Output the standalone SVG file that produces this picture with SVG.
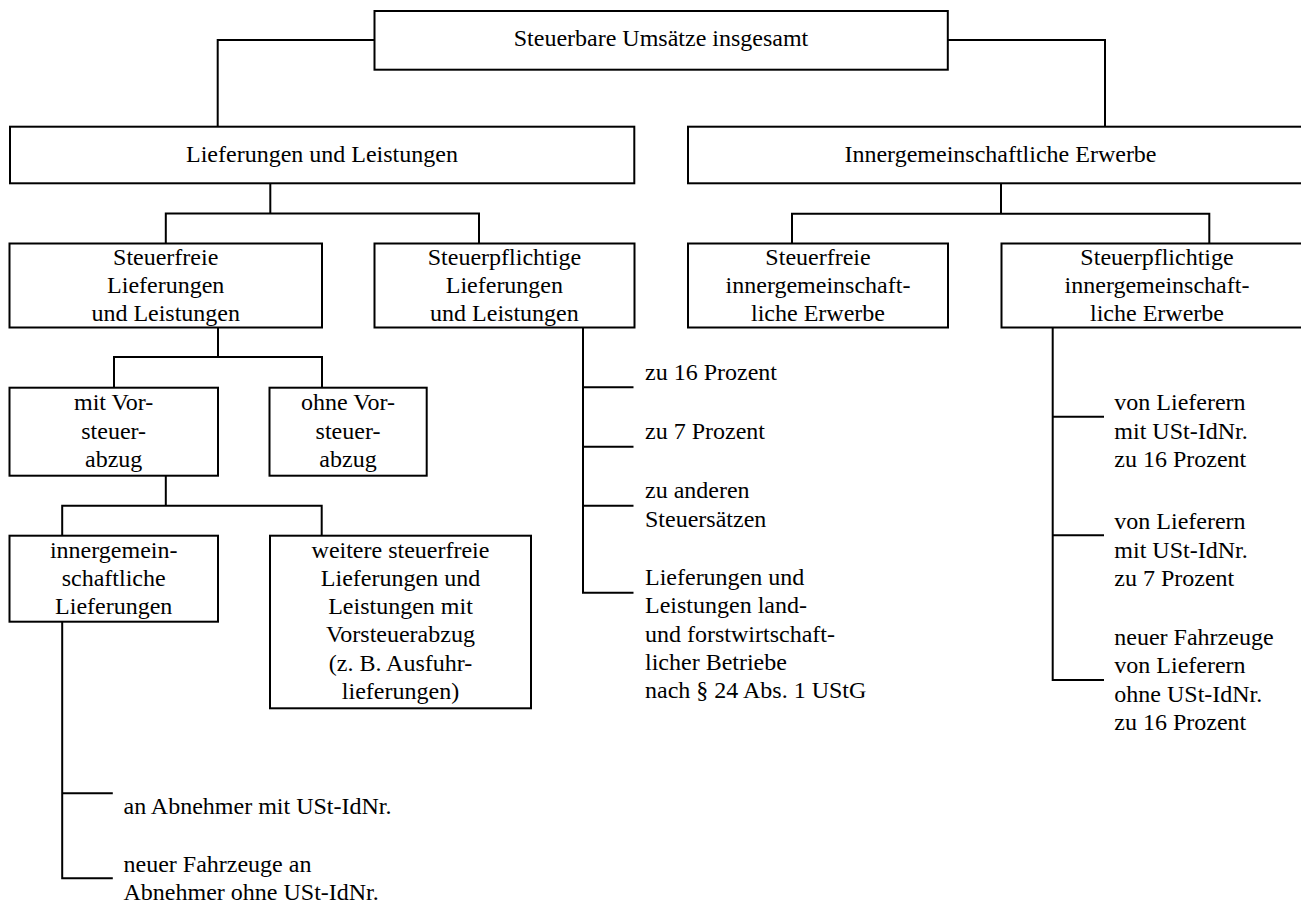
<svg xmlns="http://www.w3.org/2000/svg" width="1301" height="905" viewBox="0 0 1301 905">
<style>
.box{fill:#fff;stroke:#000;stroke-width:2}
.ln{fill:none;stroke:#000;stroke-width:2}
text{font-family:"Liberation Serif","Times New Roman",serif;font-size:24px;fill:#000}
.c{text-anchor:middle}
</style>
<rect width="1301" height="905" fill="#fff"/>
<g id="connectors">
<polyline class="ln" points="374.5,40 217.7,40 217.7,126.7"/>
<polyline class="ln" points="947.8,40 1105,40 1105,126.7"/>
<line class="ln" x1="270.3" y1="183.3" x2="270.3" y2="213.5"/>
<polyline class="ln" points="165.8,243.5 165.8,213.5 479,213.5 479,243.5"/>
<line class="ln" x1="1001" y1="183.3" x2="1001" y2="213.8"/>
<polyline class="ln" points="792,243.5 792,213.8 1209.3,213.8 1209.3,243.5"/>
<line class="ln" x1="218" y1="327.5" x2="218" y2="357"/>
<polyline class="ln" points="114,387.7 114,357 322,357 322,387.7"/>
<line class="ln" x1="165.8" y1="475.7" x2="165.8" y2="505.7"/>
<polyline class="ln" points="62.2,535.7 62.2,505.7 321.7,505.7 321.7,535.7"/>
<polyline class="ln" points="583,327.5 583,592.7 633.5,592.7"/>
<line class="ln" x1="583" y1="387.3" x2="633.5" y2="387.3"/>
<line class="ln" x1="583" y1="446.7" x2="633.5" y2="446.7"/>
<line class="ln" x1="583" y1="505.7" x2="633.5" y2="505.7"/>
<polyline class="ln" points="1052.7,327.7 1052.7,680 1104,680"/>
<line class="ln" x1="1052.7" y1="416.7" x2="1104" y2="416.7"/>
<line class="ln" x1="1052.7" y1="535.3" x2="1104" y2="535.3"/>
<polyline class="ln" points="62.2,621.7 62.2,878.3 112.8,878.3"/>
<line class="ln" x1="62.2" y1="793.3" x2="112.8" y2="793.3"/>
</g>
<g id="n-top">
<rect class="box" x="374.5" y="11" width="573.3" height="58.7"/>
<text class="c" x="661" y="46">Steuerbare Umsätze insgesamt</text>
</g>
<g id="n-lief">
<rect class="box" x="10" y="126.7" width="624.3" height="56.6"/>
<text class="c" x="322" y="162">Lieferungen und Leistungen</text>
</g>
<g id="n-inner">
<rect class="box" x="688" y="126.7" width="625" height="56.6"/>
<text class="c" x="1000.5" y="162">Innergemeinschaftliche Erwerbe</text>
</g>
<g id="n-stfrei">
<rect class="box" x="9.5" y="243.5" width="312.5" height="84"/>
<text class="c" x="165.7" y="265">Steuerfreie<tspan x="165.7" y="293">Lieferungen</tspan><tspan x="165.7" y="321">und Leistungen</tspan></text>
</g>
<g id="n-stpfl">
<rect class="box" x="374.5" y="243.5" width="260" height="84"/>
<text class="c" x="504.4" y="265">Steuerpflichtige<tspan x="504.4" y="293">Lieferungen</tspan><tspan x="504.4" y="321">und Leistungen</tspan></text>
</g>
<g id="n-stfrei-ig">
<rect class="box" x="688" y="243.5" width="260" height="84"/>
<text class="c" x="818" y="265">Steuerfreie<tspan x="818" y="293">innergemeinschaft-</tspan><tspan x="818" y="321">liche Erwerbe</tspan></text>
</g>
<g id="n-stpfl-ig">
<rect class="box" x="1001.5" y="243.5" width="311" height="84"/>
<text class="c" x="1157" y="265">Steuerpflichtige<tspan x="1157" y="293">innergemeinschaft-</tspan><tspan x="1157" y="321">liche Erwerbe</tspan></text>
</g>
<g id="n-mit">
<rect class="box" x="9.5" y="387.7" width="208.5" height="88"/>
<text class="c" x="113.7" y="410">mit Vor-<tspan x="113.7" y="438.5">steuer-</tspan><tspan x="113.7" y="467">abzug</tspan></text>
</g>
<g id="n-ohne">
<rect class="box" x="269.5" y="387.7" width="157.2" height="88"/>
<text class="c" x="348" y="410">ohne Vor-<tspan x="348" y="438.5">steuer-</tspan><tspan x="348" y="467">abzug</tspan></text>
</g>
<g id="n-igl">
<rect class="box" x="9.5" y="535.7" width="208.5" height="86"/>
<text class="c" x="113.7" y="557.5">innergemein-<tspan x="113.7" y="585.8">schaftliche</tspan><tspan x="113.7" y="614">Lieferungen</tspan></text>
</g>
<g id="n-weitere">
<rect class="box" x="270" y="535.7" width="261" height="172.6"/>
<text class="c" x="400.5" y="557.5">weitere steuerfreie<tspan x="400.5" y="585.8">Lieferungen und</tspan><tspan x="400.5" y="614.1">Leistungen mit</tspan><tspan x="400.5" y="642.4">Vorsteuerabzug</tspan><tspan x="400.5" y="670.7">(z. B. Ausfuhr-</tspan><tspan x="400.5" y="699">lieferungen)</tspan></text>
</g>
<g id="n-16">
<text x="645" y="380">zu 16 Prozent</text>
</g>
<g id="n-7">
<text x="645" y="439.3">zu 7 Prozent</text>
</g>
<g id="n-andere">
<text x="645" y="498.3">zu anderen<tspan x="645" y="527">Steuersätzen</tspan></text>
</g>
<g id="n-land">
<text x="645" y="585">Lieferungen und<tspan x="645" y="613.3">Leistungen land-</tspan><tspan x="645" y="641.7">und forstwirtschaft-</tspan><tspan x="645" y="670">licher Betriebe</tspan><tspan x="645" y="698.3">nach § 24 Abs. 1 UStG</tspan></text>
</g>
<g id="n-ig16">
<text x="1114.3" y="410">von Lieferern<tspan x="1114.3" y="438.5">mit USt-IdNr.</tspan><tspan x="1114.3" y="467">zu 16 Prozent</tspan></text>
</g>
<g id="n-ig7">
<text x="1114.3" y="529.3">von Lieferern<tspan x="1114.3" y="558">mit USt-IdNr.</tspan><tspan x="1114.3" y="586">zu 7 Prozent</tspan></text>
</g>
<g id="n-igfz">
<text x="1114.3" y="645">neuer Fahrzeuge<tspan x="1114.3" y="673">von Lieferern</tspan><tspan x="1114.3" y="701.5">ohne USt-IdNr.</tspan><tspan x="1114.3" y="730">zu 16 Prozent</tspan></text>
</g>
<g id="n-abn">
<text x="123.5" y="814.3">an Abnehmer mit USt-IdNr.</text>
</g>
<g id="n-fz">
<text x="123.5" y="871.7">neuer Fahrzeuge an<tspan x="123.5" y="900">Abnehmer ohne USt-IdNr.</tspan></text>
</g>
</svg>
